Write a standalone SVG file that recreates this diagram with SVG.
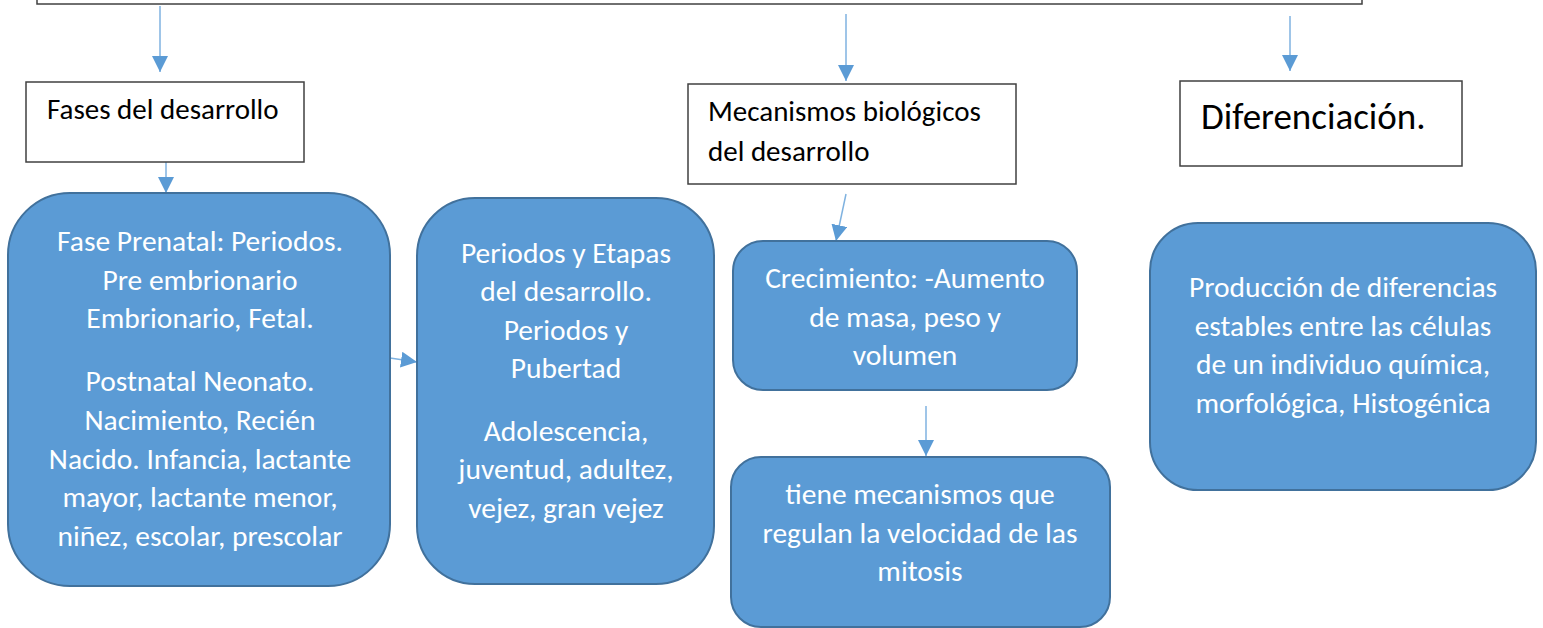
<svg xmlns="http://www.w3.org/2000/svg" width="1543" height="628" viewBox="0 0 1543 628">
<style>
.box{fill:#fff;stroke:#404040;stroke-width:1.5}
.blob{fill:#5b9bd5;stroke:#41719c;stroke-width:2}
.bt{font-family:Carlito,Lato,"Open Sans",sans-serif;font-size:29px;fill:#000}
.wt{font-family:Carlito,Lato,"Open Sans",sans-serif;font-size:29.5px;fill:#fff;text-anchor:middle}
.conn{stroke:#7fb2e0;stroke-width:1.5;fill:none}
</style>
<defs>
<marker id="ah" viewBox="0 0 10 10" refX="10" refY="5" markerWidth="16" markerHeight="16" markerUnits="userSpaceOnUse" orient="auto">
<path d="M0,0 L10,5 L0,10 z" fill="#5b9bd5"/>
</marker>
</defs>
<g id="top"><rect class="box" x="37" y="-20" width="1325" height="24"/></g>
<g id="connectors">
<line class="conn" x1="160" y1="6" x2="160" y2="72" marker-end="url(#ah)"/>
<line class="conn" x1="846" y1="14" x2="846" y2="81" marker-end="url(#ah)"/>
<line class="conn" x1="1290" y1="16" x2="1290" y2="71" marker-end="url(#ah)"/>
<line class="conn" x1="166" y1="162" x2="166" y2="193" marker-end="url(#ah)"/>
<line class="conn" x1="390" y1="358" x2="417" y2="362" marker-end="url(#ah)"/>
<line class="conn" x1="846" y1="194" x2="836" y2="241" marker-end="url(#ah)"/>
<line class="conn" x1="926" y1="406" x2="926" y2="456" marker-end="url(#ah)"/>
</g>
<g id="fases"><rect class="box" x="26" y="82" width="278" height="80"/><text class="bt" x="47" y="119">Fases del desarrollo</text></g>
<g id="mecanismos"><rect class="box" x="688" y="84" width="328" height="100"/><text class="bt" x="708" y="121">Mecanismos biológicos</text><text class="bt" x="708" y="161">del desarrollo</text></g>
<g id="diferenciacion"><rect class="box" x="1180" y="81" width="282" height="85"/><text class="bt" x="1201" y="129" style="font-size:37px">Diferenciación.</text></g>
<g id="prenatal"><rect class="blob" x="8" y="193" width="382" height="393" rx="62"/>
<text class="wt" x="200" y="251">Fase Prenatal: Periodos.</text>
<text class="wt" x="200" y="290">Pre embrionario</text>
<text class="wt" x="200" y="328">Embrionario, Fetal.</text>
<text class="wt" x="200" y="391">Postnatal Neonato.</text>
<text class="wt" x="200" y="430">Nacimiento, Recién</text>
<text class="wt" x="200" y="469">Nacido. Infancia, lactante</text>
<text class="wt" x="200" y="507">mayor, lactante menor,</text>
<text class="wt" x="200" y="546">niñez, escolar, prescolar</text>
</g>
<g id="periodos"><rect class="blob" x="417" y="198" width="297" height="386" rx="58"/>
<text class="wt" x="566" y="263">Periodos y Etapas</text>
<text class="wt" x="566" y="301">del desarrollo.</text>
<text class="wt" x="566" y="340">Periodos y</text>
<text class="wt" x="566" y="378">Pubertad</text>
<text class="wt" x="566" y="441">Adolescencia,</text>
<text class="wt" x="566" y="479">juventud, adultez,</text>
<text class="wt" x="566" y="518">vejez, gran vejez</text>
</g>
<g id="crecimiento"><rect class="blob" x="733" y="241" width="344" height="149" rx="30"/>
<text class="wt" x="905" y="288">Crecimiento: -Aumento</text>
<text class="wt" x="905" y="327">de masa, peso y</text>
<text class="wt" x="905" y="365">volumen</text>
</g>
<g id="mitosis"><rect class="blob" x="731" y="457" width="379" height="170" rx="30"/>
<text class="wt" x="920" y="504">tiene mecanismos que</text>
<text class="wt" x="920" y="543">regulan la velocidad de las</text>
<text class="wt" x="920" y="581">mitosis</text>
</g>
<g id="produccion"><rect class="blob" x="1150" y="223" width="386" height="267" rx="48"/>
<text class="wt" x="1343" y="297">Producción de diferencias</text>
<text class="wt" x="1343" y="336">estables entre las células</text>
<text class="wt" x="1343" y="374">de un individuo química,</text>
<text class="wt" x="1343" y="413">morfológica, Histogénica</text>
</g>
</svg>
